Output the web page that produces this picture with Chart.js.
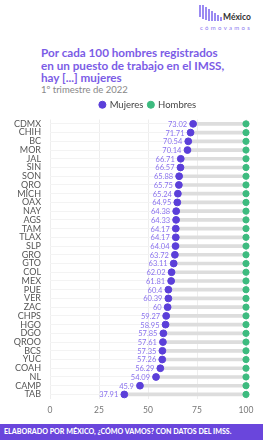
<!DOCTYPE html>
<html>
<head>
<meta charset="utf-8">
<script src="https://cdn.jsdelivr.net/npm/chart.js@4"></script>
<style>
  body { margin: 0; width: 263px; height: 441px; background: #fff; font-family: Lato, "Open Sans", sans-serif; overflow: hidden; position: relative; }
  .logo { position: absolute; left: 199px; top: 3px; width: 62px; height: 28px; }
  .barras { position: absolute; left: 0; top: 0; height: 18px; }
  .barras span { position: absolute; bottom: 0; width: 2px; background: #9a8af2; }
  .mx { position: absolute; left: 24px; top: 9px; font-size: 8.5px; font-weight: bold; color: #333; }
  .cv { position: absolute; left: 1px; top: 21px; font-size: 6px; letter-spacing: 2.3px; color: #8d7af0; }
  .titulo { position: absolute; left: 41px; top: 46px; width: 222px; font-size: 11.7px; line-height: 12.5px; font-weight: bold; color: #7b5ce6; white-space: nowrap; }
  .sub { position: absolute; left: 41px; top: 84px; font-size: 9.5px; color: #888; }
  .wrap { position: absolute; left: 0; top: 95px; width: 263px; height: 326px; }
  .pie { position: absolute; left: 0; top: 424px; width: 263px; height: 16px; background: #6a46dc; color: #fff; font-size: 7.1px; font-weight: 900; line-height: 16px; padding-left: 4px; box-sizing: border-box; white-space: nowrap; }
</style>
</head>
<body>
<div class="logo">
  <div class="barras">
    <span style="left:0;height:12px;bottom:4px"></span><span style="left:3px;height:14px;bottom:2px"></span><span style="left:6px;height:13px;bottom:1px"></span>
    <span style="left:9px;height:12px"></span><span style="left:12px;height:10px"></span><span style="left:15px;height:8px"></span>
    <span style="left:18px;height:6px"></span><span style="left:21px;height:4px"></span>
  </div>
  <div class="mx">México</div>
  <div class="cv">cómovamos</div>
</div>
<div class="titulo">Por cada 100 hombres registrados<br>en un puesto de trabajo en el IMSS,<br>hay [...] mujeres</div>
<div class="sub">1º trimestre de 2022</div>
<div class="wrap"><canvas id="grafica"></canvas></div>
<div class="pie">ELABORADO POR MÉXICO, ¿CÓMO VAMOS? CON DATOS DEL IMSS.</div>
<script>
var colorMujeres = "#5b3fd9";
var colorHombres = "#3dbb7f";
var colorLinea = "#dddddd";

var estados = ['CDMX', 'CHIH', 'BC', 'MOR', 'JAL', 'SIN', 'SON', 'QRO', 'MICH', 'OAX', 'NAY', 'AGS',
    'TAM', 'TLAX', 'SLP', 'GRO', 'GTO', 'COL', 'MEX', 'PUE', 'VER', 'ZAC', 'CHPS', 'HGO', 'DGO',
    'QROO', 'BCS', 'YUC', 'COAH', 'NL', 'CAMP', 'TAB'];

var mujeres = [73.02, 71.71, 70.54, 70.14, 66.71, 66.57, 65.88, 65.75, 65.24, 64.95, 64.38, 64.33,
    64.17, 64.17, 64.04, 63.72, 63.11, 62.02, 61.81, 60.4, 60.39, 60, 59.27, 58.95, 57.85,
    57.61, 57.35, 57.26, 56.29, 54.09, 45.9, 37.91];

var hombres = [100, 100, 100, 100, 100, 100, 100, 100, 100, 100, 100, 100,
    100, 100, 100, 100, 100, 100, 100, 100, 100, 100, 100, 100, 100,
    100, 100, 100, 100, 100, 100, 100];

var ticksX = [0, 25, 50, 75, 100];

// barra gris entre los dos puntos
var rangos = mujeres.map(function (m, i) { return [m, hombres[i]]; });

// etiquetas de valor a la izquierda del punto morado
var etiquetas = {
    id: 'etiquetas',
    afterDatasetsDraw: function (chart) {
        var ctx = chart.ctx;
        var meta = chart.getDatasetMeta(1);
        ctx.save();
        ctx.font = '7.5px Lato, sans-serif';
        ctx.fillStyle = '#8a72ee';
        ctx.textAlign = 'right';
        ctx.textBaseline = 'middle';
        meta.data.forEach(function (p, i) {
            ctx.fillText(String(mujeres[i]), p.x - 6, p.y + 0.5);
        });
        ctx.restore();
    }
};

new Chart(document.getElementById('grafica'), {
    type: 'bar',
    data: {
        labels: estados,
        datasets: [{
            label: 'rango',
            data: rangos,
            backgroundColor: colorLinea,
            barThickness: 3,
            order: 3
        }, {
            type: 'line',
            label: 'Mujeres',
            data: mujeres,
            showLine: false,
            backgroundColor: colorMujeres,
            borderColor: colorMujeres,
            pointRadius: 3.4,
            pointHoverRadius: 3.4,
            clip: false,
            order: 1
        }, {
            type: 'line',
            label: 'Hombres',
            data: hombres,
            showLine: false,
            backgroundColor: colorHombres,
            borderColor: colorHombres,
            pointRadius: 3.1,
            pointHoverRadius: 3.1,
            clip: false,
            order: 2
        }]
    },
    options: {
        indexAxis: 'y',
        responsive: true,
        maintainAspectRatio: false,
        animation: false,
        layout: { padding: { right: 17 } },
        plugins: {
            legend: {
                fullSize: false,
                labels: {
                    filter: function (item) { return item.text !== 'rango'; },
                    usePointStyle: true,
                    pointStyle: 'circle',
                    boxWidth: 5,
                    boxHeight: 5,
                    padding: 5,
                    color: '#444',
                    font: { family: 'Lato', size: 9.5 }
                }
            },
            tooltip: { enabled: false }
        },
        scales: {
            x: {
                min: 0,
                max: 100,
                afterBuildTicks: function (s) { s.ticks = ticksX.map(function (v) { return { value: v }; }); },
                grid: { color: '#eeeeee', drawTicks: false },
                border: { display: false },
                ticks: { color: '#777', padding: 6, font: { family: 'Lato', size: 8.5 } }
            },
            y: {
                afterFit: function (s) { s.width = 50; },
                grid: { color: '#f3f3f3', drawTicks: false, offset: false },
                border: { display: false },
                ticks: { color: '#555', padding: 9, autoSkip: false, font: { family: 'Lato', size: 9 } }
            }
        }
    },
    plugins: [etiquetas]
});
</script>
</body>
</html>
